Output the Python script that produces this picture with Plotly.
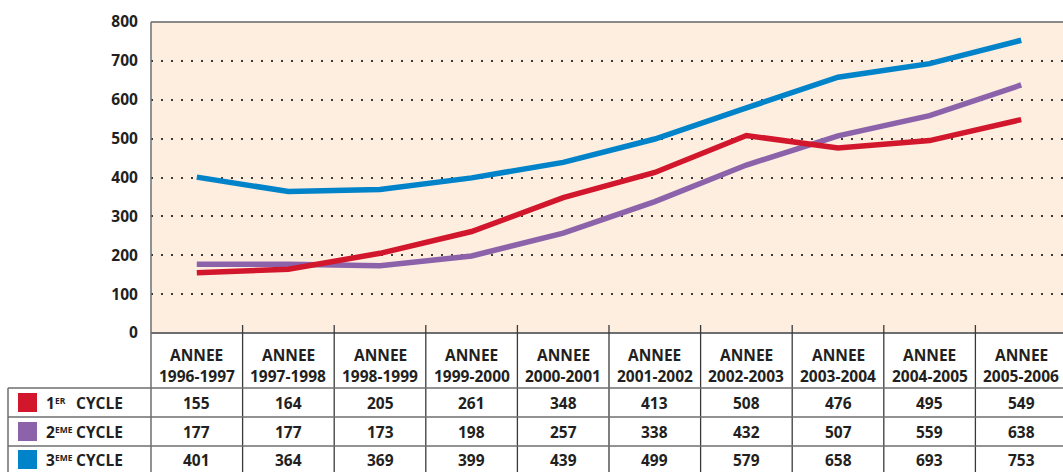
import plotly.graph_objects as go

years = ["1996-1997", "1997-1998", "1998-1999", "1999-2000", "2000-2001",
         "2001-2002", "2002-2003", "2003-2004", "2004-2005", "2005-2006"]
cycle1 = [155, 164, 205, 261, 348, 413, 508, 476, 495, 549]
cycle2 = [177, 177, 173, 198, 257, 338, 432, 507, 559, 638]
cycle3 = [401, 364, 369, 399, 439, 499, 579, 658, 693, 753]
series_num = ["1", "2", "3"]
series_sup = ["ER", "EME", "EME"]
series_word = "CYCLE"
series_colors = ["#d2172d", "#8c62aa", "#0083c8"]
y_ticks = [0, 100, 200, 300, 400, 500, 600, 700, 800]

W, H = 1063, 472
L, T, B = 151, 22, 139
PH = H - T - B
PW = W - L
COLW = 91.6
FONT = "Open Sans"
FS = 15.5
TXT = "#231f20"


def py(ypix):
    return (H - B - ypix) / PH


def px(xpix):
    return (xpix - L) / PW


fig = go.Figure()
x_idx = list(range(len(years)))
for vals, color, name in [(cycle2, series_colors[1], "2"),
                          (cycle1, series_colors[0], "1"),
                          (cycle3, series_colors[2], "3")]:
    fig.add_trace(go.Scatter(x=x_idx, y=vals, mode="lines", name=name,
                             line=dict(color=color, width=5.5),
                             hoverinfo="skip", showlegend=False))

shapes = []
line_col = "#6d6e71"
shapes.append(dict(type="line", xref="paper", yref="paper", x0=0, x1=1, y0=1, y1=1,
                   line=dict(color="#8a8a8a", width=2)))
shapes.append(dict(type="line", xref="paper", yref="paper", x0=0, x1=0, y0=1, y1=py(H),
                   line=dict(color=line_col, width=1.5)))
shapes.append(dict(type="line", xref="paper", yref="paper", x0=0, x1=1, y0=0, y1=0,
                   line=dict(color="#6d6e71", width=2)))
for i in range(len(years) - 1):
    shapes.append(dict(type="line", xref="x", yref="paper", x0=i + 0.5, x1=i + 0.5,
                       y0=py(325), y1=py(H), line=dict(color="#3a3a3a", width=1.3)))
for yy in [388, 417, 446]:
    shapes.append(dict(type="line", xref="paper", yref="paper", x0=px(8), x1=1,
                       y0=py(yy), y1=py(yy), line=dict(color=line_col, width=1.5)))
shapes.append(dict(type="line", xref="paper", yref="paper", x0=px(8), x1=px(8),
                   y0=py(388), y1=py(H), line=dict(color=line_col, width=1.5)))

annotations = []
row_y = [403, 432, 460]
font = dict(family=FONT, size=FS, color=TXT)


def ann(x, y, text, xref="x", xanchor="center", f=font):
    return dict(x=x, xref=xref, y=y, yref="paper", text=text, showarrow=False,
                xanchor=xanchor, yanchor="middle", font=f)


for i, yr in enumerate(years):
    annotations.append(ann(i, py(355), "<b>ANNEE</b>"))
    annotations.append(ann(i, py(376), "<b>%s</b>" % yr))
    for vals, ry in zip([cycle1, cycle2, cycle3], row_y):
        annotations.append(ann(i, py(ry), "<b>%d</b>" % vals[i]))

for num, sup, color, ry in zip(series_num, series_sup, series_colors, row_y):
    shapes.append(dict(type="rect", xref="paper", yref="paper", x0=px(18), x1=px(37),
                       y0=py(ry - 10), y1=py(ry + 9), fillcolor=color, line=dict(width=0)))
    annotations.append(ann(px(44), py(ry), "<b>%s</b>" % num, xref="paper", xanchor="left"))
    annotations.append(ann(px(53), py(ry - 3), "<b>%s</b>" % sup, xref="paper", xanchor="left",
                           f=dict(family=FONT, size=8.5, color=TXT)))
    annotations.append(ann(px(125), py(ry), "<b>%s</b>" % series_word, xref="paper",
                           xanchor="right"))

fig.update_layout(
    width=W, height=H,
    margin=dict(l=L, r=0, t=T, b=B, pad=0),
    paper_bgcolor="white",
    plot_bgcolor="#fdeee0",
    shapes=shapes,
    annotations=annotations,
    xaxis=dict(range=[-0.5, -0.5 + PW / COLW], showgrid=False, zeroline=False,
               showticklabels=False, showline=False, ticks="", fixedrange=True),
    yaxis=dict(range=[0, 800], tickvals=y_ticks,
               ticktext=["<b>%d</b>" % v for v in y_ticks],
               tickfont=dict(family=FONT, size=FS, color=TXT),
               showgrid=True, gridcolor="#3a3a3a", gridwidth=1.6, griddash="2px,8px",
               zeroline=False, showline=False, ticks="outside", ticklen=9,
               tickcolor="rgba(0,0,0,0)", fixedrange=True),
)

fig.write_html("out.html", config={"displayModeBar": False},
               post_script="document.body.style.margin='0';document.body.style.overflow='hidden';")
